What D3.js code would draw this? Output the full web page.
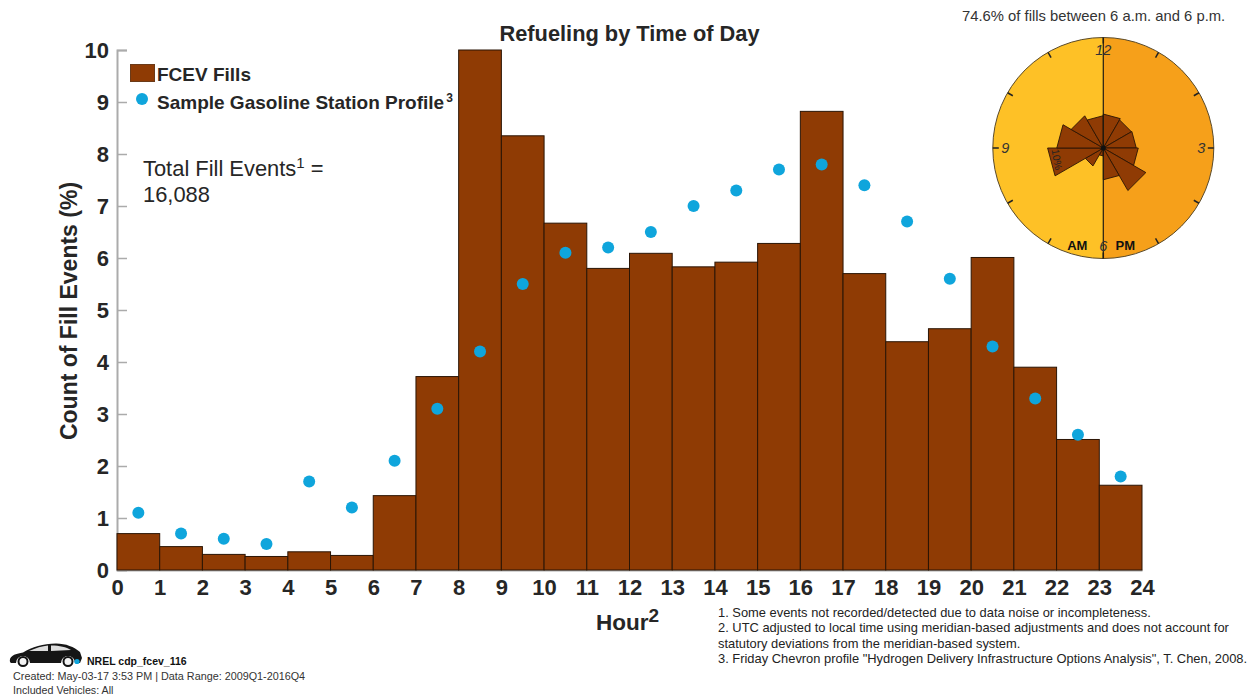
<!DOCTYPE html>
<html>
<head>
<meta charset="utf-8">
<script src="https://d3js.org/d3.v7.min.js"></script>
<style>
    html, body { margin: 0; padding: 0; background: #fff; }
    text { font-family: "Liberation Sans", Arial, sans-serif; }
</style>
</head>
<body>
<div id="chart"></div>
<script>
// share of fill events per hour of day (%)
var hours = d3.range(0, 24);
var fcevFills = [0.7, 0.45, 0.3, 0.26, 0.35, 0.28, 1.43, 3.72, 10, 8.35, 6.67, 5.8,
    6.09, 5.83, 5.92, 6.28, 8.82, 5.7, 4.39, 4.64, 6.01, 3.9, 2.51, 1.63];
var gasProfile = [1.1, 0.7, 0.6, 0.5, 1.7, 1.2, 2.1, 3.1, 4.2, 5.5, 6.1, 6.2,
    6.5, 7.0, 7.3, 7.7, 7.8, 7.4, 6.7, 5.6, 4.3, 3.3, 2.6, 1.8];
var xTicks = d3.range(0, 25);
var yTicks = d3.range(0, 11);
var clockLabels = [[3, '3'], [6, '6'], [9, '9'], [12, '12']];
var footnotes = [
    '1. Some events not recorded/detected due to data noise or incompleteness.',
    '2. UTC adjusted to local time using meridian-based adjustments and does not account for',
    'statutory deviations from the meridian-based system.',
    '3. Friday Chevron profile "Hydrogen Delivery Infrastructure Options Analysis", T. Chen, 2008.'
];

var brown = '#8f3b04', blue = '#0fa5dc', axisGrey = '#ababab', ink = '#262626';

var svg = d3.select('#chart').append('svg')
    .attr('width', 1251)
    .attr('height', 698)
    .style('display', 'block');

var x = d3.scaleLinear().domain([0, 24]).range([117, 1142]);
var y = d3.scaleLinear().domain([0, 10]).range([570, 50]);

// axes first, ticks point into the plot
var yAxis = svg.append('g')
    .attr('transform', 'translate(' + x(0) + ',0)')
    .call(d3.axisLeft(y).tickValues(yTicks).tickSize(-10).tickPadding(8));
var xAxis = svg.append('g')
    .attr('transform', 'translate(0,' + y(0) + ')')
    .call(d3.axisBottom(x).tickValues(xTicks).tickSize(0).tickPadding(9));
[xAxis, yAxis].forEach(function (axis) {
    axis.select('.domain').attr('stroke', axisGrey).attr('stroke-width', 2);
    axis.selectAll('.tick line').attr('stroke', axisGrey).attr('stroke-width', 1.5);
    axis.selectAll('text')
        .attr('fill', ink)
        .style('font-family', '"Liberation Sans", Arial, sans-serif')
        .style('font-size', '22px')
        .style('font-weight', 'bold');
});

// bars
svg.append('g').selectAll('rect').data(hours)
    .enter()
    .append('rect')
    .attr('x', function (d) { return x(d); })
    .attr('y', function (d) { return y(fcevFills[d]); })
    .attr('width', function (d) { return x(d + 1) - x(d); })
    .attr('height', function (d) { return y(0) - y(fcevFills[d]); })
    .attr('fill', brown)
    .attr('stroke', '#2b1505')
    .attr('stroke-width', 1);

// gasoline profile dots
svg.append('g').selectAll('circle').data(hours)
    .enter()
    .append('circle')
    .attr('cx', function (d) { return x(d + 0.5); })
    .attr('cy', function (d) { return y(gasProfile[d]); })
    .attr('r', 6)
    .attr('fill', blue);

// titles
svg.append('text')
    .attr('x', 629.5).attr('y', 41)
    .attr('text-anchor', 'middle')
    .attr('font-size', 21.8).attr('font-weight', 'bold').attr('fill', ink)
    .text('Refueling by Time of Day');
svg.append('text')
    .attr('transform', 'translate(77,311) rotate(-90)')
    .attr('text-anchor', 'middle')
    .attr('font-size', 23).attr('font-weight', 'bold').attr('fill', ink)
    .text('Count of Fill Events (%)');
var hourLabel = svg.append('text')
    .attr('x', 596).attr('y', 630)
    .attr('font-size', 22.5).attr('font-weight', 'bold').attr('fill', ink)
    .text('Hour');
hourLabel.append('tspan').attr('dy', -8).attr('font-size', 19).text('2');

// legend
svg.append('rect')
    .attr('x', 130.5).attr('y', 64.5).attr('width', 24).attr('height', 17)
    .attr('fill', brown).attr('stroke', '#6b3a18');
svg.append('circle')
    .attr('cx', 142).attr('cy', 99).attr('r', 6).attr('fill', blue);
svg.append('text')
    .attr('x', 157).attr('y', 81)
    .attr('font-size', 19).attr('font-weight', 'bold').attr('fill', ink)
    .text('FCEV Fills');
var legendGas = svg.append('text')
    .attr('x', 157).attr('y', 109)
    .attr('font-size', 19).attr('font-weight', 'bold').attr('fill', ink)
    .text('Sample Gasoline Station Profile');
legendGas.append('tspan').attr('dx', 2).attr('dy', -7).attr('font-size', 12).text('3');

// total annotation
var total = svg.append('text')
    .attr('x', 143).attr('y', 176)
    .attr('font-size', 21.9).attr('fill', ink)
    .text('Total Fill Events');
total.append('tspan').attr('dy', -8).attr('font-size', 15).text('1');
total.append('tspan').attr('dy', 8).text(' =');
svg.append('text')
    .attr('x', 143).attr('y', 202)
    .attr('font-size', 21.9).attr('fill', ink)
    .text('16,088');

// clock inset: 12 one-hour wedges from 6 a.m. to 6 p.m.
var clock = svg.append('g').attr('transform', 'translate(1103.3,148)');
var clockR = 110.5;
var hourAngle = d3.scaleLinear().domain([0, 12]).range([0, 2 * Math.PI]);
var radius = d3.scaleLinear().domain([0, 10]).range([0, 55.7]);
var arc = d3.arc().innerRadius(0);
var wedge = d3.lineRadial().curve(d3.curveLinearClosed);

clock.append('path')
    .attr('d', arc({ outerRadius: clockR, startAngle: Math.PI, endAngle: 2 * Math.PI }))
    .attr('fill', '#fec126');
clock.append('path')
    .attr('d', arc({ outerRadius: clockR, startAngle: 0, endAngle: Math.PI }))
    .attr('fill', '#f6a01a');
clock.append('circle')
    .attr('r', clockR)
    .attr('fill', 'none').attr('stroke', '#5a4a2a').attr('stroke-width', 1);

// straight edged wedges, like the rose plot they came from
var dayHours = d3.range(6, 18);
clock.append('g').selectAll('path').data(dayHours)
    .enter()
    .append('path')
    .attr('d', function (d) {
        return wedge([
            [0, 0],
            [hourAngle(d), radius(fcevFills[d])],
            [hourAngle(d + 1), radius(fcevFills[d])]
        ]);
    })
    .attr('fill', brown)
    .attr('stroke', '#2b1505')
    .attr('stroke-width', 0.9);

// hour ticks on the rim
clock.append('g').selectAll('line').data(d3.range(0, 12))
    .enter()
    .append('line')
    .attr('x1', function (d) { return Math.sin(hourAngle(d)) * (clockR - 6); })
    .attr('y1', function (d) { return -Math.cos(hourAngle(d)) * (clockR - 6); })
    .attr('x2', function (d) { return Math.sin(hourAngle(d)) * clockR; })
    .attr('y2', function (d) { return -Math.cos(hourAngle(d)) * clockR; })
    .attr('stroke', '#222')
    .attr('stroke-width', 1.5);

clock.append('line')
    .attr('y1', -clockR).attr('y2', clockR)
    .attr('stroke', '#1f1a10').attr('stroke-width', 1.2);
clock.append('circle').attr('r', 2.5).attr('fill', '#111');

clock.append('g').selectAll('text').data(clockLabels)
    .enter()
    .append('text')
    .attr('x', function (d) { return Math.sin(hourAngle(d[0])) * 98; })
    .attr('y', function (d) { return -Math.cos(hourAngle(d[0])) * 98 + 5; })
    .attr('text-anchor', 'middle')
    .attr('font-size', 14.5).attr('font-style', 'italic').attr('fill', '#333')
    .text(function (d) { return d[1]; });
clock.append('text')
    .attr('transform', 'translate(-50,12) rotate(80)')
    .attr('text-anchor', 'middle')
    .attr('font-size', 10.5).attr('fill', '#222')
    .text('10%');
clock.append('text')
    .attr('x', -26).attr('y', 102)
    .attr('text-anchor', 'middle')
    .attr('font-size', 13).attr('font-weight', 'bold').attr('fill', '#111')
    .text('AM');
clock.append('text')
    .attr('x', 22).attr('y', 102)
    .attr('text-anchor', 'middle')
    .attr('font-size', 13).attr('font-weight', 'bold').attr('fill', '#111')
    .text('PM');
svg.append('text')
    .attr('x', 962).attr('y', 21)
    .attr('font-size', 14.8).attr('fill', '#333')
    .text('74.6% of fills between 6 a.m. and 6 p.m.');

// footnotes
svg.append('g').selectAll('text').data(footnotes)
    .enter()
    .append('text')
    .attr('x', 718)
    .attr('y', function (d, i) { return 617 + i * 15.3; })
    .attr('font-size', 12.9).attr('fill', '#222')
    .text(function (d) { return d; });

// vehicle badge
var badge = svg.append('g').attr('transform', 'translate(10,643)');
badge.append('path')
    .attr('d', 'M0,19 C-1,14 3,11 13,9.5 C22,4 33,0.5 46,0.5 C56,0.5 64,4 70,9 L72,15 L70,20 L65,20 A7,7 0 0 0 51,20 L20,20 A7,7 0 0 0 6,20 L1,20 Z')
    .attr('fill', '#151515');
badge.append('path').attr('d', 'M19,8 C26,5 32,3 38,2.5 L38,8 Z').attr('fill', '#ddd');
badge.append('path').attr('d', 'M41,2.5 C50,2.5 56,4 61,7 L41,8 Z').attr('fill', '#ddd');
badge.append('circle').attr('cx', 13).attr('cy', 18.5).attr('r', 4.5).attr('fill', '#f2f2f2').attr('stroke', '#111').attr('stroke-width', 2);
badge.append('circle').attr('cx', 58).attr('cy', 18.5).attr('r', 4.5).attr('fill', '#f2f2f2').attr('stroke', '#111').attr('stroke-width', 2);
badge.append('circle').attr('cx', 67).attr('cy', 18.5).attr('r', 2.6).attr('fill', blue);

svg.append('text')
    .attr('x', 87).attr('y', 665)
    .attr('font-size', 10.5).attr('font-weight', 'bold').attr('fill', '#111')
    .text('NREL cdp_fcev_116');
svg.append('text')
    .attr('x', 13).attr('y', 680)
    .attr('font-size', 10.8).attr('fill', '#333')
    .text('Created: May-03-17  3:53 PM | Data Range: 2009Q1-2016Q4');
svg.append('text')
    .attr('x', 13).attr('y', 694)
    .attr('font-size', 10.7).attr('fill', '#333')
    .text('Included Vehicles: All');
</script>
</body>
</html>
